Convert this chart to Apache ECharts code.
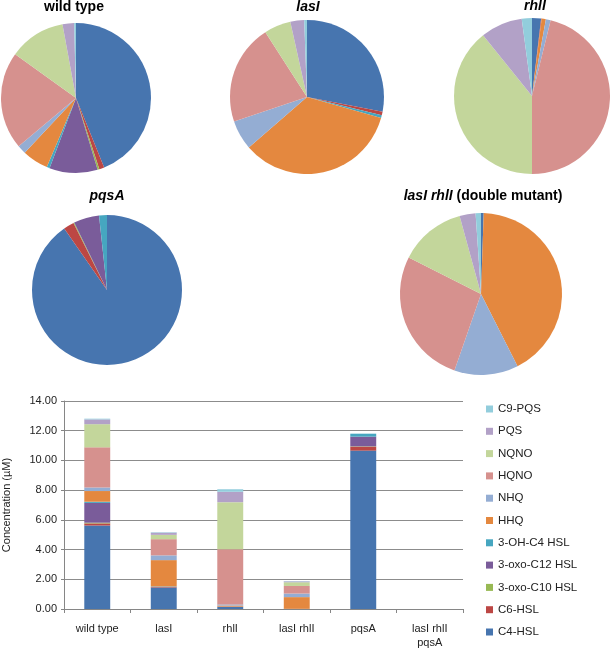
<!DOCTYPE html>
<html>
<head>
<meta charset="utf-8">
<script src="https://cdn.jsdelivr.net/npm/echarts@6/dist/echarts.min.js"></script>
<style>html,body{margin:0;padding:0;background:#fff}#c{width:610px;height:651px}</style>
</head>
<body>
<div id="c"></div>
<script>
const groups = ['wild type', 'lasI', 'rhlI', 'lasI rhlI', 'pqsA', 'lasI rhlI\npqsA'];
const compounds = ['C4-HSL', 'C6-HSL', '3-oxo-C10 HSL', '3-oxo-C12 HSL', '3-OH-C4 HSL', 'HHQ', 'NHQ', 'HQNO', 'NQNO', 'PQS', 'C9-PQS'];
const colors = ['#4775AF', '#BC4744', '#98B954', '#7A5C9A', '#46A6C0', '#E4883F', '#94ADD3', '#D6918E', '#C3D69B', '#B2A1C7', '#92CDDC'];
const C4HSL = [5.62, 1.45, 0.15, 0.01, 10.66, 0];
const C6HSL = [0.14, 0.04, 0.01, 0, 0.27, 0];
const oxoC10 = [0.05, 0, 0, 0, 0.02, 0];
const oxoC12 = [1.33, 0, 0, 0, 0.65, 0];
const OHC4 = [0.08, 0.03, 0, 0, 0.2, 0];
const HHQ = [0.72, 1.77, 0.07, 0.79, 0, 0];
const NHQ = [0.24, 0.32, 0.08, 0.24, 0, 0];
const HQNO = [2.70, 1.09, 3.72, 0.51, 0, 0];
const NQNO = [1.56, 0.29, 3.16, 0.25, 0, 0];
const PQS = [0.32, 0.15, 0.70, 0.06, 0, 0];
const C9PQS = [0.05, 0.03, 0.17, 0.02, 0, 0];
const yTicks = ['0.00', '2.00', '4.00', '6.00', '8.00', '10.00', '12.00', '14.00'];
const values = [C4HSL, C6HSL, oxoC10, oxoC12, OHC4, HHQ, NHQ, HQNO, NQNO, PQS, C9PQS];

const pies = [
  { g: 0, title: 'wild type', italic: false, cx: 76, cy: 98, r: 75, tx: 74, ty: 0 },
  { g: 1, title: 'lasI', italic: true, cx: 307, cy: 97, r: 77, tx: 308, ty: 0 },
  { g: 2, title: 'rhlI', italic: true, cx: 532, cy: 96, r: 78, tx: 535, ty: -1 },
  { g: 4, title: 'pqsA', italic: true, cx: 107, cy: 290, r: 75, tx: 107, ty: 189 },
  { g: 3, title: '{i|lasI rhlI} (double mutant)', italic: false, cx: 481, cy: 294, r: 81, tx: 483, ty: 189 }
];

const font = 'Liberation Sans, Arial, sans-serif';
const titles = pies.map(p => ({
  text: p.title,
  left: p.tx, top: p.ty, textAlign: 'center', padding: 0,
  textStyle: {
    fontFamily: font, fontSize: 14, fontWeight: 'bold', color: '#000',
    fontStyle: p.italic ? 'italic' : 'normal',
    rich: { i: { fontFamily: font, fontSize: 14, fontWeight: 'bold', fontStyle: 'italic', color: '#000' } }
  }
}));

const pieSeries = pies.map(p => ({
  type: 'pie',
  center: [p.cx, p.cy],
  radius: p.r,
  startAngle: 90,
  clockwise: true,
  label: { show: false },
  labelLine: { show: false },
  emphasis: { disabled: true },
  silent: true,
  legendHoverLink: false,
  itemStyle: { borderWidth: 0 },
  data: compounds.map((c, i) => ({ name: c, value: values[i][p.g], itemStyle: { color: colors[i] } })).filter(d => d.value > 0)
}));

const barSeries = compounds.map((c, i) => ({
  name: c,
  type: 'bar',
  stack: 'total',
  barWidth: '39%',
  itemStyle: { color: colors[i] },
  emphasis: { disabled: true },
  data: values[i]
}));

const chart = echarts.init(document.getElementById('c'), null, { renderer: 'canvas' });
chart.setOption({
  animation: false,
  backgroundColor: '#fff',
  title: titles,
  legend: {
    orient: 'vertical',
    left: 486, top: 403,
    padding: 0,
    itemWidth: 7, itemHeight: 7, itemGap: 10.3, itemTextGap: 5,
    icon: 'rect',
    data: compounds.slice().reverse(),
    textStyle: { fontFamily: font, fontSize: 11.5, color: '#222' },
    selectedMode: false
  },
  grid: { left: 64, top: 401, right: 147, bottom: 42, containLabel: false, outerBoundsMode: 'none' },
  xAxis: {
    type: 'category',
    data: groups,
    axisLine: { lineStyle: { color: '#868686' } },
    axisTick: { show: true, length: 4, lineStyle: { color: '#868686' } },
    axisLabel: { fontFamily: font, fontSize: 11, color: '#222', margin: 13, lineHeight: 14, interval: 0 }
  },
  yAxis: {
    type: 'value',
    min: 0, max: 14, interval: 2,
    name: 'Concentration (µM)',
    nameLocation: 'middle',
    nameGap: 52,
    nameTextStyle: { fontFamily: font, fontSize: 11, color: '#222' },
    axisLine: { show: true, lineStyle: { color: '#868686' } },
    axisTick: { show: true, length: 3, lineStyle: { color: '#868686' } },
    splitLine: { lineStyle: { color: '#8c8c8c' } },
    axisLabel: { fontFamily: font, fontSize: 11, color: '#222', margin: 7, formatter: v => yTicks[Math.round(v / 2)] }
  },
  series: pieSeries.concat(barSeries)
});
</script>
</body>
</html>
